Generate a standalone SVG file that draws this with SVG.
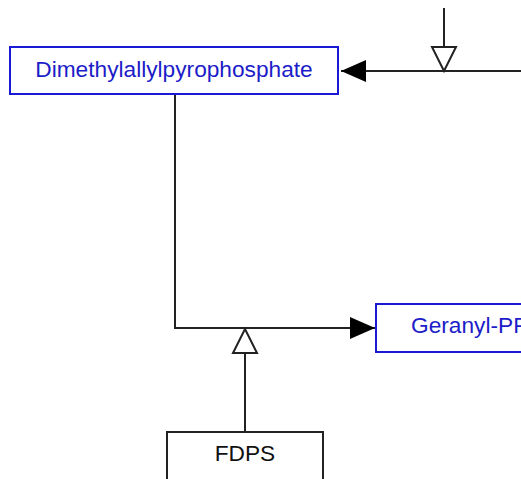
<svg xmlns="http://www.w3.org/2000/svg" width="521" height="479" viewBox="0 0 521 479">
<style>
.box{fill:#fff;stroke-width:2}
.met{stroke:#1a1ad6}
.gene{stroke:#222}
.t{font-family:"Liberation Sans",Arial,sans-serif;font-size:22.7px}
.tm{fill:#1c1cc8}
.tg{fill:#111}
.ln{fill:none;stroke:#222;stroke-width:2}
</style>
<defs>
<marker id="fill" markerUnits="userSpaceOnUse" markerWidth="26" markerHeight="24" refX="25" refY="12" orient="auto">
<path d="M0,1 L25,12 L0,23 Z" fill="#000"/>
</marker>
</defs>
<rect width="521" height="479" fill="#fff"/>
<g id="connectors">
<path class="ln" d="M521,71 L341,71" marker-end="url(#fill)"/>
<path class="ln" d="M444,8 L444,47"/>
<path d="M432,47 L456,47 L444,71 Z" fill="#fff" stroke="#222" stroke-width="2"/>
<path class="ln" d="M175,94 L175,328 L375,328" marker-end="url(#fill)"/>
<path class="ln" d="M245,432 L245,353"/>
<path d="M233,353 L257,353 L245,329 Z" fill="#fff" stroke="#222" stroke-width="2"/>
</g>
<g id="dimethylallylpyrophosphate">
<rect class="box met" x="10" y="47" width="328" height="47"/>
<text class="t tm" x="174" y="77" text-anchor="middle">Dimethylallylpyrophosphate</text>
</g>
<g id="geranyl-pp">
<rect class="box met" x="376" y="304" width="170" height="48"/>
<text class="t tm" x="411" y="333">Geranyl-PP</text>
</g>
<g id="fdps">
<rect class="box gene" x="167" y="432" width="156" height="60"/>
<text class="t tg" x="245" y="461" text-anchor="middle">FDPS</text>
</g>
</svg>
